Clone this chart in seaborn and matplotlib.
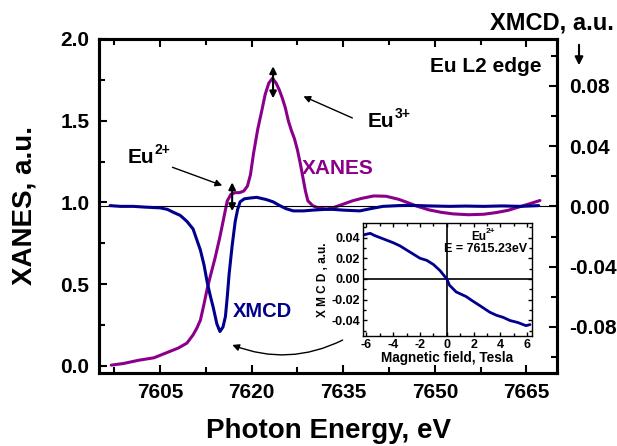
import matplotlib
matplotlib.use("Agg")
import matplotlib.pyplot as plt
from matplotlib.ticker import MultipleLocator
import seaborn as sns

# Eu L2-edge XANES (left axis)
xanes_energy = [7597.0, 7599.0, 7601.5, 7604.0, 7606.0, 7608.0, 7609.4, 7610.4, 7611.0,
                7611.6, 7612.2, 7612.7, 7613.3, 7614.0, 7614.8, 7615.4, 7616.0, 7616.6,
                7617.3, 7618.0, 7618.7, 7619.3, 7619.8, 7620.3, 7621.0, 7621.7, 7622.2,
                7622.8, 7623.4, 7624.0, 7624.5, 7625.0, 7625.5, 7626.0, 7626.5, 7627.0,
                7627.5, 7628.0, 7628.4, 7628.8, 7629.2, 7630.0, 7631.0, 7632.3, 7633.5,
                7635.0, 7636.5, 7638.0, 7640.0, 7642.0, 7644.0, 7645.5, 7647.0, 7649.0,
                7651.0, 7653.0, 7655.5, 7658.0, 7660.0, 7662.0, 7664.0, 7665.5, 7667.2]
xanes_value = [0.005, 0.015, 0.035, 0.05, 0.08, 0.11, 0.14, 0.19, 0.23,
               0.28, 0.38, 0.47, 0.56, 0.66, 0.79, 0.90, 1.01, 1.05,
               1.06, 1.06, 1.07, 1.10, 1.17, 1.30, 1.45, 1.57, 1.66,
               1.73, 1.76, 1.73, 1.69, 1.64, 1.58, 1.50, 1.44, 1.39,
               1.32, 1.23, 1.15, 1.07, 1.01, 0.98, 0.965, 0.96, 0.97,
               0.99, 1.01, 1.025, 1.04, 1.038, 1.02, 1.00, 0.978, 0.955,
               0.94, 0.93, 0.925, 0.928, 0.938, 0.952, 0.975, 0.992, 1.012]

# XMCD signal (right axis)
xmcd_energy = [7596.8, 7598.5, 7600.6, 7602.5, 7605.0, 7606.2, 7607.2, 7608.3, 7609.4,
               7610.4, 7611.0, 7611.6, 7612.2, 7612.7, 7613.2, 7613.7, 7614.3, 7614.8,
               7615.3, 7615.7, 7616.0, 7616.3, 7616.8, 7617.3, 7617.7, 7618.1, 7618.8,
               7619.7, 7620.8, 7622.4, 7623.5, 7624.6, 7625.6, 7626.8, 7628.5, 7630.0,
               7632.0, 7633.3, 7635.0, 7637.7, 7639.5, 7641.5, 7644.0, 7646.0, 7649.0,
               7652.4, 7655.0, 7658.0, 7661.0, 7664.0, 7667.0]
xmcd_value = [0.0005, 0.0, 0.0, -0.0005, -0.001, -0.002, -0.004, -0.006, -0.010,
              -0.015, -0.022, -0.029, -0.039, -0.050, -0.059, -0.067, -0.078, -0.083,
              -0.080, -0.073, -0.060, -0.045, -0.026, -0.010, -0.002, 0.003, 0.005,
              0.0055, 0.006, 0.0045, 0.003, 0.0005, -0.0015, -0.003, -0.003, -0.0025,
              -0.002, -0.002, -0.0025, -0.003, -0.0015, 0.0, 0.0005, 0.0007, 0.0003,
              0.0, 0.0002, 0.0, 0.0003, 0.0, 0.0005]

# XMCD versus applied field at E = 7615.23 eV
field_tesla = [-6.2, -5.9, -5.7, -5.4, -5.0, -4.5, -4.0, -3.5, -3.0, -2.5, -2.0, -1.5,
               -1.0, -0.5, 0.0, 0.2, 0.7, 1.45, 1.9, 2.5, 3.2, 3.7, 4.2, 4.7, 5.3,
               5.9, 6.2]
field_xmcd = [0.0425, 0.0435, 0.044, 0.042, 0.040, 0.0375, 0.035, 0.032, 0.028, 0.024,
              0.020, 0.018, 0.014, 0.008, 0.0, -0.006, -0.0125, -0.017, -0.021, -0.026,
              -0.032, -0.035, -0.037, -0.040, -0.042, -0.045, -0.044]

energy_ticks = [7605, 7620, 7635, 7650, 7665]
xanes_ticks = [0.0, 0.5, 1.0, 1.5, 2.0]
xmcd_ticks = [-0.08, -0.04, 0.0, 0.04, 0.08]
field_ticks = [-6, -4, -2, 0, 2, 4, 6]
inset_ticks = [-0.04, -0.02, 0.0, 0.02, 0.04]

purple = "#8B008B"
navy = "#00008C"

sns.set_theme(style="ticks", rc={
    "axes.edgecolor": "black", "axes.labelcolor": "black", "text.color": "black",
    "xtick.color": "black", "ytick.color": "black", "axes.facecolor": "white",
})
plt.rcParams["font.family"] = ["Liberation Sans", "DejaVu Sans"]
plt.rcParams["font.weight"] = "bold"
plt.rcParams["axes.labelweight"] = "bold"
plt.rcParams["axes.unicode_minus"] = False

fig = plt.figure(figsize=(6.17, 4.46), dpi=100)
ax = fig.add_axes([0.1605, 0.1637, 0.7423, 0.7489])
ax2 = ax.twinx()

ax2.axhline(0, color="black", lw=0.8, zorder=1)
sns.lineplot(x=xanes_energy, y=xanes_value, ax=ax, color=purple, lw=2.2,
             estimator=None, sort=False)
sns.lineplot(x=xmcd_energy, y=xmcd_value, ax=ax2, color=navy, lw=2.2,
             estimator=None, sort=False)

ax.set_xlim(7595, 7670)
ax.set_ylim(-0.043, 2.0)
ax2.set_ylim(-0.1105, 0.111)

ax.set_xticks(energy_ticks)
ax.xaxis.set_minor_locator(MultipleLocator(7.5))
ax.set_yticks(xanes_ticks)
ax.yaxis.set_minor_locator(MultipleLocator(0.25))
ax2.set_yticks(xmcd_ticks)
ax2.yaxis.set_minor_locator(MultipleLocator(0.02))
ax2.set_yticklabels(["-0.08", "-0.04", "0.00", "0.04", "0.08"])

for a in (ax, ax2):
    for s in a.spines.values():
        s.set_linewidth(2.2)
ax.tick_params(which="both", direction="in", top=True, right=False, width=1.5,
               labelsize=15, pad=7)
ax.tick_params(which="major", length=6)
ax.tick_params(which="minor", length=4)
ax2.tick_params(which="both", direction="in", width=1.5, labelsize=15, pad=9)
ax2.tick_params(which="major", length=6)
ax2.tick_params(which="minor", length=4)

ax.set_xlabel("Photon Energy, eV", fontsize=20, labelpad=12)
ax.set_ylabel("XANES, a.u.", fontsize=20, labelpad=16)


def ion_label(axes, x, y, base, charge, size, sup_size, **kw):
    """Write an ion symbol with its charge as a raised superscript."""
    t = axes.text(x, y, base, fontsize=size, ha="left", va="baseline", **kw)
    axes.annotate(charge, xy=(1.0, 0.92), xycoords=t, fontsize=sup_size,
                  ha="left", va="center", annotation_clip=False)
    return t


# annotations
ax.text(0.845, 0.901, "Eu L2 edge", transform=ax.transAxes, fontsize=15,
        ha="center", va="baseline")
ax.text(0.989, 1.027, "XMCD, a.u.", transform=ax.transAxes, fontsize=17,
        ha="center", va="baseline", clip_on=False)
ax.annotate("", xy=(1.048, 0.913), xytext=(1.048, 0.991), xycoords="axes fraction",
            arrowprops=dict(arrowstyle="-|>", color="black", lw=1.5, mutation_scale=12),
            annotation_clip=False)

ion_label(ax, 7639.0, 1.46, "Eu", "3+", 15, 10)
ax.annotate("", xy=(7628.06, 1.656), xytext=(7636.9, 1.51),
            arrowprops=dict(arrowstyle="-|>", color="black", lw=1.0, mutation_scale=10))
ion_label(ax, 7599.75, 1.24, "Eu", "2+", 15, 10)
ax.annotate("", xy=(7615.6, 1.098), xytext=(7606.6, 1.221),
            arrowprops=dict(arrowstyle="-|>", color="black", lw=1.0, mutation_scale=10))

ax.annotate("", xy=(7623.5, 1.85), xytext=(7623.5, 1.62),
            arrowprops=dict(arrowstyle="<|-|>", color="black", lw=1.5, mutation_scale=10))
ax.annotate("", xy=(7616.8, 1.14), xytext=(7616.8, 0.93),
            arrowprops=dict(arrowstyle="<|-|>", color="black", lw=1.5, mutation_scale=10))
ax.annotate("", xy=(7616.4, 0.135), xytext=(7635.3, 0.166),
            arrowprops=dict(arrowstyle="-|>", color="black", lw=1.0, mutation_scale=10,
                            connectionstyle="arc3,rad=-0.23"))

ax.text(7634.1, 1.172, "XANES", color=purple, fontsize=15, ha="center", va="baseline")
ax.text(7621.7, 0.30, "XMCD", color=navy, fontsize=14.5, ha="center", va="baseline")

# inset: field dependence
axin = fig.add_axes([0.5883, 0.2466, 0.2739, 0.2534])
axin.axhline(0, color="black", lw=1.2)
axin.axvline(0, color="black", lw=1.2)
sns.lineplot(x=field_tesla, y=field_xmcd, ax=axin, color=navy, lw=2.0,
             estimator=None, sort=False)
axin.set_xlim(-6.25, 6.35)
axin.set_ylim(-0.055, 0.054)
axin.set_xticks(field_ticks)
axin.xaxis.set_minor_locator(MultipleLocator(1))
axin.set_yticks(inset_ticks)
axin.yaxis.set_minor_locator(MultipleLocator(0.01))
for s in axin.spines.values():
    s.set_linewidth(1.0)
axin.tick_params(which="both", direction="in", top=True, right=True, width=1.0,
                 labelsize=9, pad=2)
axin.tick_params(which="major", length=3)
axin.tick_params(which="minor", length=2)
axin.set_xlabel("Magnetic field, Tesla", fontsize=9.8, labelpad=0)
axin.set_ylabel("X M C D , a.u.", fontsize=8.5, labelpad=2)
eu = axin.text(0.64, 0.85, "Eu", transform=axin.transAxes, fontsize=8.5,
               ha="left", va="baseline")
axin.annotate("2+", xy=(1.0, 0.92), xycoords=eu, fontsize=6, ha="left", va="center")
axin.text(0.728, 0.743, "E = 7615.23eV", transform=axin.transAxes, fontsize=9,
          ha="center", va="baseline")

fig.savefig("out.png", dpi=100)
